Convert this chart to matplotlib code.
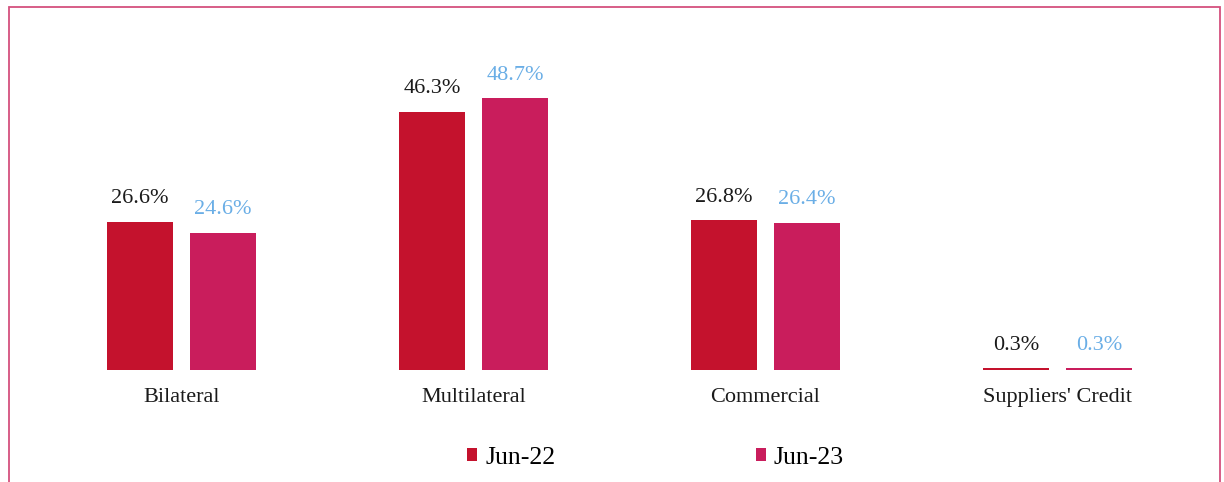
import numpy as np
import matplotlib.pyplot as plt
from matplotlib.patches import Rectangle

categories = ["Bilateral", "Multilateral", "Commercial", "Suppliers' Credit"]
series_names = ["Jun-22", "Jun-23"]
jun22 = [26.6, 46.3, 26.8, 0.3]
jun23 = [24.6, 48.7, 26.4, 0.3]

c22 = "#c4122d"
c23 = "#c91d5c"
lbl22 = "#1a1a1a"
lbl23 = "#6aaee6"

plt.rcParams["font.family"] = ["Liberation Serif", "DejaVu Serif"]

fig = plt.figure(figsize=(12.24, 4.82), dpi=100)
ax = fig.add_axes([0, 0, 1, 1])

x = np.arange(len(categories))
w = 0.226
off = 0.142

ax.bar(x - off, jun22, w, color=c22, label=series_names[0])
ax.bar(x + off, jun23, w, color=c23, label=series_names[1])

for i in range(len(categories)):
    ax.text(x[i] - off, jun22[i] + 4.1, f"{jun22[i]:.1f}%", ha="center",
            va="center", fontsize=16, color=lbl22)
    ax.text(x[i] + off, jun23[i] + 4.1, f"{jun23[i]:.1f}%", ha="center",
            va="center", fontsize=16, color=lbl23)
    ax.text(x[i], -4.9, categories[i], ha="center", va="center",
            fontsize=16, color="#1a1a1a")

ax.set_xlim(-0.6216, 3.570)
ax.set_ylim(-20.07, 66.3)
ax.axis("off")

# legend
leg = ax.legend(loc="center", bbox_to_anchor=(0.5355, 0.05), ncol=2,
                frameon=False, fontsize=18.5, handlelength=0.4,
                handleheight=0.4, handletextpad=0.3, columnspacing=7.8)

# pink border around the chart
fig.patches.append(Rectangle((9 / 1224, -0.05), 1211 / 1224, 1.05 - 7 / 482,
                             transform=fig.transFigure, fill=False,
                             edgecolor="#d4507e", linewidth=1.3))

fig.savefig("out.png", dpi=100)
